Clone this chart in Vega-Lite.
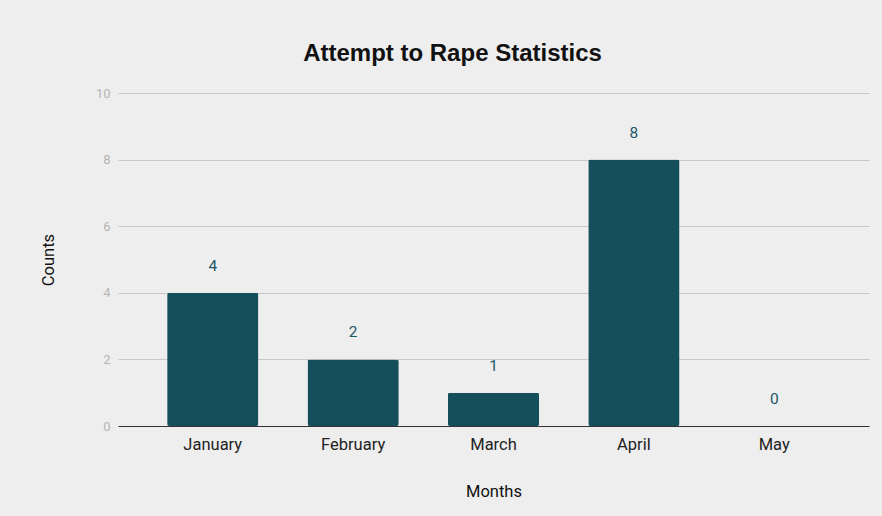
{
  "$schema": "https://vega.github.io/schema/vega-lite/v6.json",
  "width": 751,
  "height": 333,
  "autosize": {"type": "none"},
  "padding": {"left": 118, "top": 93, "right": 13, "bottom": 90},
  "background": "#eeeeee",
  "config": {
    "view": {"stroke": null},
    "font": "Roboto"
  },
  "title": {
    "text": "Attempt to Rape Statistics",
    "font": "Liberation Sans",
    "fontSize": 24,
    "fontWeight": "bold",
    "color": "#111111",
    "anchor": "middle",
    "frame": "group",
    "dx": -41,
    "offset": 21
  },
  "data": {
    "values": [
      {"month": "January", "count": 4},
      {"month": "February", "count": 2},
      {"month": "March", "count": 1},
      {"month": "April", "count": 8},
      {"month": "May", "count": 0}
    ]
  },
  "encoding": {
    "x": {
      "field": "month",
      "type": "nominal",
      "sort": null,
      "scale": {"paddingInner": 0.35, "paddingOuter": 0.35},
      "axis": {
        "title": "Months",
        "titleFont": "Roboto",
        "titleFontSize": 16.5,
        "titleFontWeight": "normal",
        "titleColor": "#111111",
        "titleY": 65,
        "titleBaseline": "middle",
        "labelAngle": 0,
        "labelFont": "Roboto",
        "labelFontSize": 16.5,
        "labelColor": "#222222",
        "labelPadding": 10,
        "ticks": false,
        "domainColor": "#333333",
        "domainWidth": 1.2
      }
    },
    "y": {
      "field": "count",
      "type": "quantitative",
      "scale": {"domain": [0, 10]},
      "axis": {
        "title": "Counts",
        "titleFont": "Roboto",
        "titleFontSize": 16.5,
        "titleFontWeight": "normal",
        "titleColor": "#111111",
        "titleX": -70,
        "titleY": 166.5,
        "titleAlign": "center",
        "titleBaseline": "middle",
        "titleAngle": -90,
        "values": [0, 2, 4, 6, 8, 10],
        "labelFont": "Roboto",
        "labelFontSize": 13,
        "labelColor": "#b5b5b5",
        "labelPadding": 8,
        "ticks": false,
        "domain": false,
        "gridColor": "#c8c8c8",
        "gridWidth": 1
      }
    }
  },
  "layer": [
    {
      "mark": {"type": "bar", "color": "#164f5c", "cornerRadius": 2}
    },
    {
      "mark": {"type": "text", "baseline": "bottom", "dy": -19, "fontSize": 15.5, "color": "#1d5868", "font": "Roboto"},
      "encoding": {"text": {"field": "count", "type": "quantitative"}}
    }
  ]
}
